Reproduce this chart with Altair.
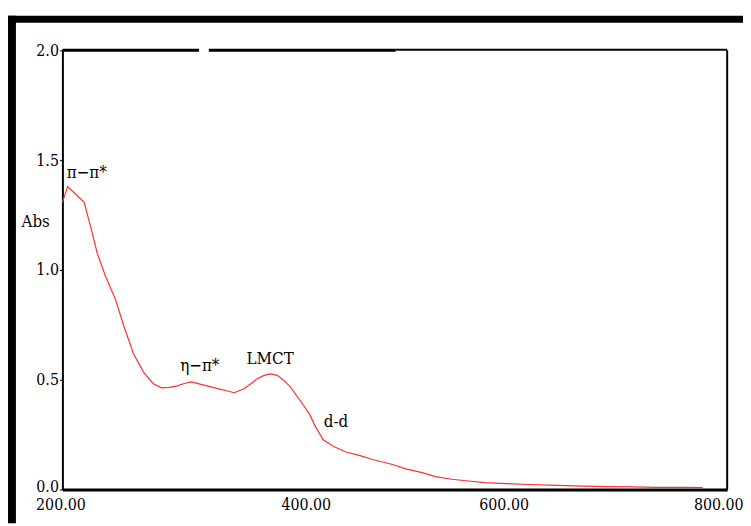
import altair as alt
import pandas as pd

# Spectrum readings (wavelength in nm, absorbance)
wavelength = [200, 204.7, 212, 219.6, 225.6, 231.5, 239, 248, 255.4, 264.3, 273.2, 282,
              289.6, 296, 303, 310, 316.4, 326.8, 331.3, 340, 348, 355, 364, 370, 375.9,
              382, 387.8, 394, 400, 405.8, 411, 417.6, 423.5, 428, 435.4, 444.4, 456, 468,
              480, 498, 510, 524.7, 536.6, 551.5, 566.4, 581, 596, 620, 646.7, 670, 691,
              715, 736, 760, 778]
absorbance = [1.308, 1.38, 1.345, 1.308, 1.195, 1.075, 0.97, 0.865, 0.745, 0.617, 0.535, 0.482,
              0.463, 0.465, 0.471, 0.483, 0.49, 0.477, 0.471, 0.46, 0.45, 0.441, 0.459, 0.482, 0.505,
              0.52, 0.527, 0.52, 0.497, 0.467, 0.43, 0.384, 0.339, 0.29, 0.227, 0.197, 0.171, 0.156,
              0.137, 0.114, 0.094, 0.077, 0.059, 0.047, 0.039, 0.032, 0.028, 0.023, 0.019, 0.016, 0.0135,
              0.012, 0.010, 0.010, 0.009]

# Band annotations
ann_labels = ["π−π*", "η−π*", "LMCT", "d-d"]
ann_x = [222, 324, 387.5, 447]
ann_y = [1.44, 0.563, 0.595, 0.306]

x_ticks = [200, 400, 600, 800]
y_ticks = [0.0, 0.5, 1.0, 1.5, 2.0]

df = pd.DataFrame({"wl": wavelength, "abs": absorbance})
ann = pd.DataFrame({"label": ann_labels, "wl": ann_x, "abs": ann_y})

FONT = "DejaVu Serif Condensed, DejaVu Serif"
W, H = 672, 444

xscale = alt.Scale(domain=[200, 800], nice=False, zero=False)
yscale = alt.Scale(domain=[0, 2], nice=False, zero=False)

x_axis = alt.Axis(
    values=x_ticks, format=".2f", title=None, grid=False, ticks=False,
    domainColor="black", domainWidth=3, labelColor="black", labelFont=FONT,
    labelFontSize=16, labelPadding=7, labelFlush=False,
    labelOffset={"condition": [{"test": "datum.value == 400", "value": 22},
                               {"test": "datum.value == 800", "value": -9}],
                 "value": -2},
)
y_axis = alt.Axis(
    values=y_ticks, format=".1f", title=None, grid=False, tickSize=3,
    tickColor="black", tickWidth=1, domainColor="black", domainWidth=2,
    labelColor="black", labelFont=FONT, labelFontSize=16, labelPadding=1,
    labelFlush=False,
    labelOffset={"condition": {"test": "datum.value == 0", "value": -3}, "value": 0},
)

line = alt.Chart(df).mark_line(color="#ff3030", strokeWidth=1.2).encode(
    x=alt.X("wl:Q", scale=xscale, axis=x_axis),
    y=alt.Y("abs:Q", scale=yscale, axis=y_axis),
)

texts = alt.Chart(ann).mark_text(font=FONT, fontSize=17, color="black").encode(
    x=alt.X("wl:Q", scale=xscale),
    y=alt.Y("abs:Q", scale=yscale),
    text="label:N",
)

abs_label = alt.Chart(pd.DataFrame({"t": ["Abs"]})).mark_text(
    font=FONT, fontSize=17, color="black"
).encode(x=alt.value(-27), y=alt.value(174), text="t:N")

# Box border pieces (right side and broken top edge)
right_border = alt.Chart(pd.DataFrame({"a": [0]})).mark_rule(color="black", strokeWidth=2).encode(
    x=alt.value(W), y=alt.value(0), y2=alt.value(H))
top1 = alt.Chart(pd.DataFrame({"a": [0]})).mark_rule(color="black", strokeWidth=3).encode(
    x=alt.value(0), x2=alt.value(138), y=alt.value(0))
top2 = alt.Chart(pd.DataFrame({"a": [0]})).mark_rule(color="black", strokeWidth=3).encode(
    x=alt.value(148), x2=alt.value(337), y=alt.value(0))
top3 = alt.Chart(pd.DataFrame({"a": [0]})).mark_rule(color="black", strokeWidth=2).encode(
    x=alt.value(337), x2=alt.value(W), y=alt.value(-0.5))

# Outer heavy frame
frame_left = alt.Chart(pd.DataFrame({"a": [0]})).mark_rule(color="black", strokeWidth=8).encode(
    x=alt.value(-51), y=alt.value(-35), y2=alt.value(478))
frame_top = alt.Chart(pd.DataFrame({"a": [0]})).mark_rule(color="black", strokeWidth=7).encode(
    x=alt.value(-55), x2=alt.value(700), y=alt.value(-31.5))

chart = alt.layer(
    line, texts, abs_label, right_border, top1, top2, top3, frame_left, frame_top
).properties(
    width=W, height=H,
    autosize=alt.AutoSizeParams(type="none"),
    padding={"left": 55, "top": 40, "right": 16, "bottom": 34},
    background="white",
).configure_view(stroke=None)

chart.save("out.html", embed_options={"renderer": "svg", "actions": False})
